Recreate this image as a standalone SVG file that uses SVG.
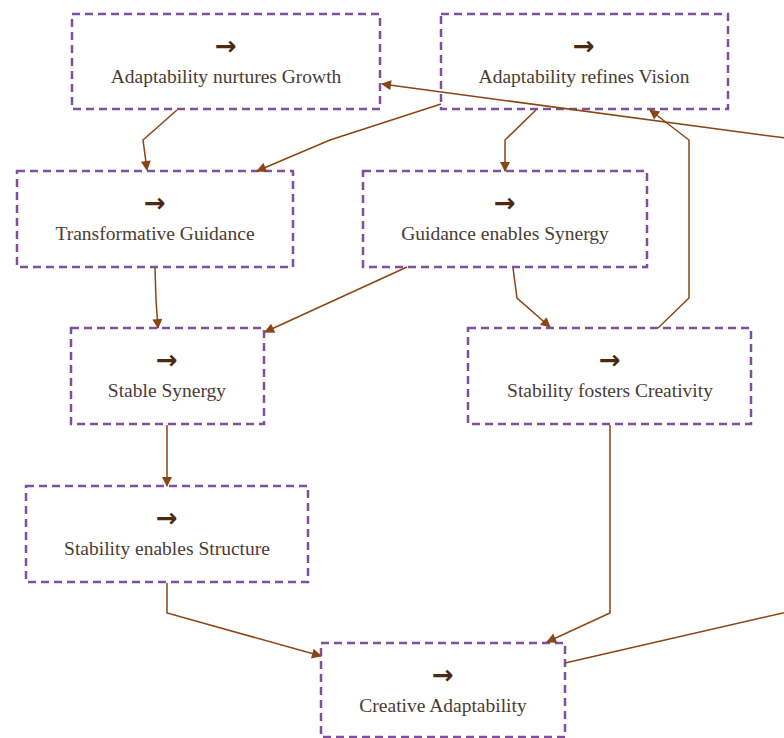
<svg xmlns="http://www.w3.org/2000/svg" width="784" height="738" viewBox="0 0 784 738">
<style>
.box{fill:#ffffff;stroke:#7d4f9e;stroke-width:2.5;stroke-dasharray:8,5}
.lbl{font-family:'Liberation Serif',serif;font-size:19.5px;fill:#4a3b34;text-anchor:middle}
.ico{font-family:'DejaVu Sans',sans-serif;font-size:26px;font-weight:bold;fill:#4a2a12;text-anchor:middle}
.edge{fill:none;stroke:#8b4513;stroke-width:1.5}
</style>
<defs>
<marker id="ah" viewBox="0 0 10 10" refX="9" refY="5" markerWidth="12" markerHeight="10" markerUnits="userSpaceOnUse" orient="auto">
<path d="M0,0 L10,5 L0,10 Z" fill="#8b4513"/>
</marker>
</defs>
<rect width="784" height="738" fill="#ffffff"/>
<g id="n1"><rect class="box" x="72" y="14" width="308" height="95"/><text class="ico" x="226" y="55">→</text><text class="lbl" x="226" y="83">Adaptability nurtures Growth</text></g>
<g id="n2"><rect class="box" x="441" y="14" width="287" height="95"/><text class="ico" x="584" y="55">→</text><text class="lbl" x="584" y="83">Adaptability refines Vision</text></g>
<g id="n3"><rect class="box" x="17" y="171" width="276" height="96"/><text class="ico" x="155" y="212">→</text><text class="lbl" x="155" y="240">Transformative Guidance</text></g>
<g id="n4"><rect class="box" x="363" y="171" width="284" height="96"/><text class="ico" x="505" y="212">→</text><text class="lbl" x="505" y="240">Guidance enables Synergy</text></g>
<g id="n5"><rect class="box" x="71" y="328" width="193" height="96"/><text class="ico" x="167" y="369">→</text><text class="lbl" x="167" y="397">Stable Synergy</text></g>
<g id="n6"><rect class="box" x="468" y="328" width="283" height="96"/><text class="ico" x="610" y="369">→</text><text class="lbl" x="610" y="397">Stability fosters Creativity</text></g>
<g id="n7"><rect class="box" x="26" y="486" width="282" height="96"/><text class="ico" x="167" y="527">→</text><text class="lbl" x="167" y="555">Stability enables Structure</text></g>
<g id="n8"><rect class="box" x="321" y="643" width="244" height="94"/><text class="ico" x="443" y="684">→</text><text class="lbl" x="443" y="712">Creative Adaptability</text></g>
<g id="connectors">
<path class="edge" d="M177,110 L143,140 L147,170" marker-end="url(#ah)"/>
<path class="edge" d="M441,104 L330,140 L257,171" marker-end="url(#ah)"/>
<path class="edge" d="M536,110 L505,140 L505,171" marker-end="url(#ah)"/>
<path class="edge" d="M658,328 L689,298 L689,140 L650,110" marker-end="url(#ah)"/>
<path class="edge" d="M565,663 L800,609 L800,140 L382,84" marker-end="url(#ah)"/>
<path class="edge" d="M155,268 L156,300 L158,328" marker-end="url(#ah)"/>
<path class="edge" d="M407,267 L265,332" marker-end="url(#ah)"/>
<path class="edge" d="M513,268 L517,298 L550,327" marker-end="url(#ah)"/>
<path class="edge" d="M167,425 L167,486" marker-end="url(#ah)"/>
<path class="edge" d="M167,583 L167,613 L321,656" marker-end="url(#ah)"/>
<path class="edge" d="M610,425 L610,613 L547,642" marker-end="url(#ah)"/>
</g>
</svg>
